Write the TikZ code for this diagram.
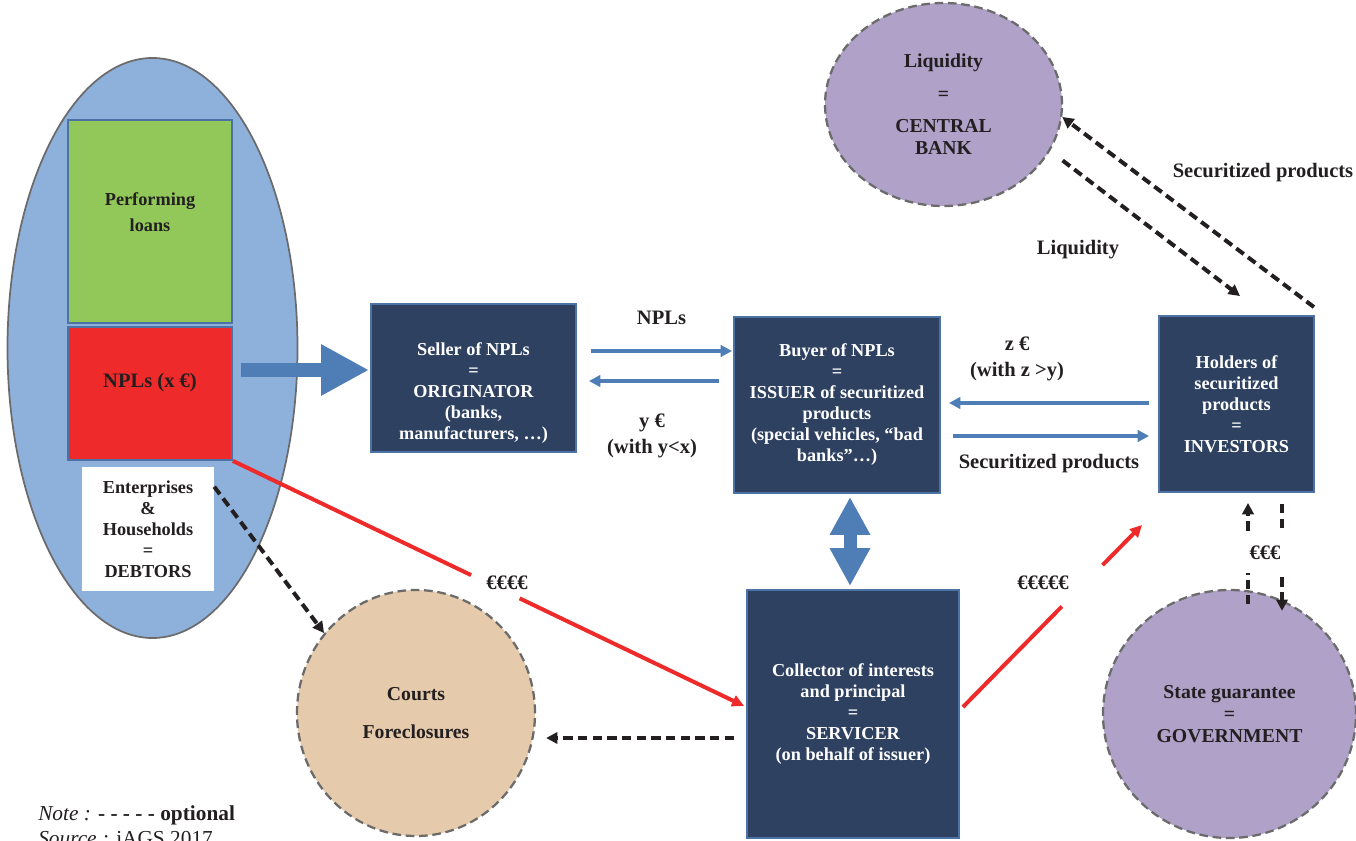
\documentclass[tikz,border=0pt]{standalone}
\usepackage{fontspec}
\setmainfont{Liberation Serif}
\usetikzlibrary{shapes.geometric,arrows.meta,calc}
\definecolor{pool}{HTML}{8EB1DC}
\definecolor{okgreen}{HTML}{92C85A}
\definecolor{npred}{HTML}{EE2A2A}
\definecolor{navy}{HTML}{2E4161}
\definecolor{boxedge}{HTML}{4C72A6}
\definecolor{arrblue}{HTML}{4F7DB6}
\definecolor{ovaledge}{HTML}{6B6B6B}
\definecolor{courtfill}{HTML}{E6CAAC}
\definecolor{lilac}{HTML}{AFA1C7}
\definecolor{ink}{HTML}{231F20}
\begin{document}
\begin{tikzpicture}[x=0.75pt,y=-0.75pt,
 txt/.style={font=\fontsize{13.7}{15.75}\selectfont\bfseries, text=ink, align=center},
 lab/.style={txt, font=\fontsize{15.4}{17}\selectfont\bfseries},
 darkbox/.style={txt, draw=boxedge, line width=1.4pt, fill=navy, text=white, inner sep=0pt},
 oval/.style={txt, font=\fontsize{14.8}{16.5}\selectfont\bfseries, ellipse, draw=ovaledge, line width=1.7pt, dash pattern=on 6.5pt off 3.5pt, inner sep=0pt},
 bluearr/.style={draw=arrblue, line width=2.7pt, -{Triangle[length=8.5pt,width=8.5pt]}},
 redarr/.style={draw=npred, line width=3pt},
 redtip/.style={-{Triangle[length=9pt,width=8.5pt]}},
 optarr/.style={draw=ink, line width=3pt, dash pattern=on 7pt off 4pt, -{Triangle[length=8.5pt,width=8.5pt]}}]
\useasboundingbox (0,0) rectangle (1356,841);

\node[ellipse, draw=ovaledge, line width=1.3pt, fill=pool, minimum width=217.5pt, minimum height=435pt, inner sep=0pt] (pool) at (152.5,348) {};
\node[draw=boxedge, line width=1.3pt, fill=okgreen, minimum width=123pt, minimum height=152.25pt] (perf) at (150,221.5) {};
\node[txt] (perf-t) at ($(perf)+(0,-9.5)$) {Performing\\[4pt]loans};
\node[draw=boxedge, line width=1.3pt, fill=npred, minimum width=123pt, minimum height=99.75pt] (npl) at (150,393.5) {};
\node[lab] (npl-t) at ($(npl)+(0,-10.5)$) {NPLs (x €)};
\node[txt, fill=white, minimum width=99pt, minimum height=93pt, inner sep=0pt] (debt) at (148,529) {Enterprises\\\&\\Households\\=\\DEBTORS};

\node[darkbox, minimum width=153.75pt, minimum height=111pt] (seller) at (473.5,378) {};
\node[txt, text=white] (seller-t) at ($(seller)+(0,15.5)$) {Seller of NPLs\\=\\ORIGINATOR\\(banks,\\manufacturers, …)};
\node[darkbox, minimum width=154.5pt, minimum height=132pt] (buyer) at (837,405) {Buyer of NPLs\\=\\ISSUER of securitized\\products\\(special vehicles, “bad\\banks”…)};
\node[darkbox, minimum width=116.25pt, minimum height=132pt] (holders) at (1236.5,404) {Holders of\\securitized\\products\\=\\INVESTORS};
\node[darkbox, minimum width=159pt, minimum height=186pt] (servicer) at (853,714) {Collector of interests\\and principal\\=\\SERVICER\\(on behalf of issuer)};

\node[oval, fill=courtfill, minimum width=178.5pt, minimum height=184.5pt] (courts) at (416,713) {Courts\\[12pt]Foreclosures};
\node[oval, fill=lilac, minimum width=177.75pt, minimum height=152.25pt] (cb) at (943.5,104.5) {Liquidity\\[8pt]=\\[8pt]CENTRAL\\BANK};
\node[oval, fill=lilac, minimum width=189.75pt, minimum height=186pt] (gov) at (1229.5,714) {State guarantee\\=\\GOVERNMENT};

\draw[draw=arrblue, line width=10.5pt, -{Triangle[length=36pt,width=36pt]}] ($(npl.east)+(8,-23.5)$) -- ($(seller.west)+(-1,-8)$);
\draw[draw=arrblue, line width=9.75pt, {Triangle[length=28.5pt,width=28.5pt]}-{Triangle[length=28.5pt,width=28.5pt]}] ($(buyer.south)+(13,3)$) -- ($(servicer.north)+(-3,-3)$);

\draw[bluearr] ($(seller.east)+(14,-27)$) -- ($(buyer.west)+(-1,-54)$) node[lab, midway, yshift=25pt] (npl-lab) {NPLs};
\draw[bluearr] ($(buyer.west)+(-14,-24)$) -- ($(seller.east)+(12,3)$);
\node[lab] (y-lab) at (652,436) {y €\\[3pt](with y<x)};
\draw[bluearr] ($(holders.west)+(-9,-1)$) -- ($(buyer.east)+(8,-2)$);
\node[lab] (z-lab) at (1017,359) {z €\\[3pt](with z >y)};
\draw[bluearr] ($(buyer.east)+(12,31)$) -- ($(holders.west)+(-9,32)$);
\node[lab] (sec-lab) at (1049,464) {Securitized products};

\coordinate (srv-in) at ($(servicer.west)+(-2,-8)$);
\coordinate (srv-out) at ($(servicer.east)+(3,-7)$);
\coordinate (hold-in) at ($(holders.south west)+(-16,32)$);
\draw[redarr] (npl.south east) -- ($(npl.south east)!0.466!(srv-in)$);
\draw[redarr, redtip] ($(npl.south east)!0.561!(srv-in)$) -- (srv-in);
\node[lab] (e4) at (507,583) {€€€€};
\draw[redarr] (srv-out) -- ($(srv-out)!0.552!(hold-in)$);
\draw[redarr, redtip] ($(srv-out)!0.779!(hold-in)$) -- (hold-in);
\node[lab] (e5) at (1043,583) {€€€€€};

\draw[optarr] ($(debt.north east)+(0,20)$) -- (courts.139);
\draw[optarr] ($(servicer.west)+(-12,24)$) -- ($(courts.east)+(10,25)$);
\draw[optarr] ($(holders.north east)+(-1,-8)$) -- (cb.-6);
\node[lab] (sec2-lab) at (1263,173) {Securitized products};
\draw[optarr] ($(cb.-25)+(14,7)$) -- ($(holders.north)+(3.5,-19)$);
\node[lab] (liq-lab) at (1078,250) {Liquidity};
\draw[optarr] ($(gov.north)+(18.5,15)$) -- ($(holders.south)+(11.5,10)$);
\draw[optarr] ($(holders.south)+(45.5,11)$) -- ($(gov.north)+(52.5,22)$);
\node[lab, fill=white, minimum width=40pt, minimum height=30pt] (e3) at (1265,553) {€€€};

\node[anchor=base west, font=\fontsize{16}{19}\selectfont, text=ink, inner sep=0pt] (note) at (38,820) {\textit{Note :} \textbf{- - - - - optional}};
\node[anchor=base west, font=\fontsize{16}{19}\selectfont, text=ink, inner sep=0pt] (source) at (38,845) {\textit{Source :} iAGS 2017};
\end{tikzpicture}
\end{document}
